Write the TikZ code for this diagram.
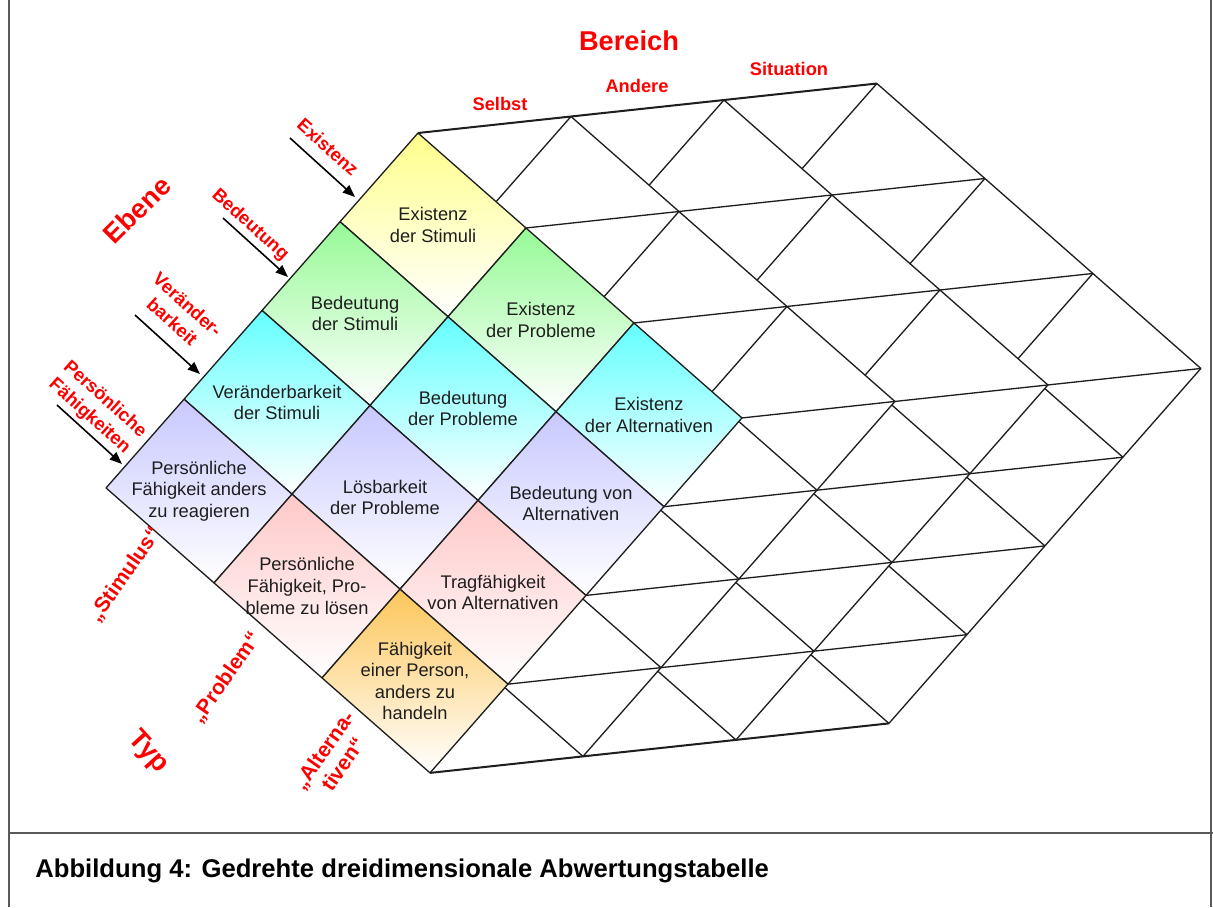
\documentclass[tikz,border=0pt]{standalone}
\usepackage{fontspec}
\setmainfont{Liberation Sans}
\usetikzlibrary{calc,arrows.meta}

\definecolor{cyel}{RGB}{255,255,140}
\definecolor{cgrn}{RGB}{150,250,150}
\definecolor{ccyn}{RGB}{100,255,255}
\definecolor{clav}{RGB}{200,200,255}
\definecolor{cpnk}{RGB}{255,200,200}
\definecolor{corg}{RGB}{253,198,90}
\definecolor{ink}{RGB}{30,30,30}

\tikzset{
    mesh/.style={draw=ink, line width=0.75pt, line join=round},
    rim/.style={draw=ink, line width=1.15pt},
    cell/.style={align=center, text=ink, font=\fontsize{10.4}{12.3}\selectfont},
    pointer/.style={draw=black, line width=0.9pt, -{Triangle[length=7pt,width=5.5pt]}},
    lvllabel/.style={text=red, align=center, font=\bfseries\fontsize{10.5}{13}\selectfont, rotate=-42},
    typlabel/.style={text=red, align=center, font=\bfseries\fontsize{12}{13.5}\selectfont, rotate=55},
    berlabel/.style={text=red, font=\bfseries\fontsize{10.4}{12}\selectfont},
    bigtitle/.style={text=red, font=\bfseries\fontsize{15.5}{18}\selectfont},
    rahmen/.style={draw=black!65, line width=1.1pt},
    captext/.style={inner sep=0pt, font=\bfseries\fontsize{14.6}{16}\selectfont}
}

\begin{document}
\begin{tikzpicture}[x=0.02cm, y=-0.02cm]
    \useasboundingbox (0,0) rectangle (1213,907);

    \begin{scope}[shift={(418,133)}, x={(-1.56cm,-1.775cm)}, y={(2.16cm,-1.9cm)}, z={(3.06cm,0.33cm)}]
        \foreach \c in {3,2,1} {
            \filldraw[mesh, fill=white] (0,0,\c) -- (4,0,\c) -- (4,3,\c) -- (0,3,\c) -- cycle;
            \foreach \a in {1,2,3} \draw[mesh] (\a,0,\c) -- (\a,3,\c);
            \foreach \b in {1,2} \draw[mesh] (0,\b,\c) -- (4,\b,\c);
        }

        \foreach \i/\j/\col/\nm/\txt in {
            0/0/cyel/exst/{Existenz\\der Stimuli},
            1/0/cgrn/best/{Bedeutung\\der Stimuli},
            2/0/ccyn/vest/{Veränderbarkeit\\der Stimuli},
            3/0/clav/pfst/{Persönliche\\Fähigkeit anders\\zu reagieren},
            0/1/cgrn/expr/{Existenz\\der Probleme},
            1/1/ccyn/bepr/{Bedeutung\\der Probleme},
            2/1/clav/lopr/{Lösbarkeit\\der Probleme},
            3/1/cpnk/pfpr/{Persönliche\\Fähigkeit, Pro-\\bleme zu lösen},
            0/2/ccyn/exal/{Existenz\\der Alternativen},
            1/2/clav/beal/{Bedeutung von\\Alternativen},
            2/2/cpnk/tral/{Tragfähigkeit\\von Alternativen},
            3/2/corg/fhal/{Fähigkeit\\einer Person,\\anders zu\\handeln}} {
            \shade[top color=\col, bottom color=white] (\i,\j,0) -- (\i+1,\j,0) -- (\i+1,\j+1,0) -- (\i,\j+1,0) -- cycle;
            \draw[mesh] (\i,\j,0) -- (\i+1,\j,0) -- (\i+1,\j+1,0) -- (\i,\j+1,0) -- cycle;
            \node[cell] (\nm) at (\i+0.5,\j+0.5,0) {\txt};
        }

        \foreach \b in {1,2,3} \draw[mesh] (0,\b,0) -- (0,\b,3);
        \foreach \a in {1,2,3} \draw[mesh] (\a,3,0) -- (\a,3,3);
        \draw[rim] (0,0,0) -- (0,0,3);
        \draw[rim] (4,3,0) -- (4,3,3);
    \end{scope}

    \node[bigtitle] (ber) at (629,41) {Bereich};
    \node[berlabel] (sel) at (500,104) {Selbst};
    \node[berlabel] (and) at (637,86) {Andere};
    \node[berlabel] (sit) at (789,69) {Situation};

    \node[bigtitle, rotate=45] (ebe) at (137,210) {Ebene};
    \node[lvllabel] (lex) at (328,147) {Existenz};
    \node[lvllabel] (lbe) at (250,225) {Bedeutung};
    \node[lvllabel] (lve) at (180,313) {Veränder-\\barkeit};
    \node[lvllabel] (lpf) at (97,408) {Persönliche\\Fähigkeiten};

    \foreach \k/\sx/\sy in {1/290/138, 2/223/218, 3/135/315, 4/57/405} {
        \coordinate (p\k) at (\sx,\sy);
        \coordinate (q\k) at ($(p\k) + (65,59)$);
        \draw[pointer] (p\k) -- (q\k);
    }

    \node[bigtitle, rotate=-48] (typ) at (148,752) {Typ};
    \node[typlabel] (tst) at (125,575) {„Stimulus“};
    \node[typlabel] (tpr) at (226,678) {„Problem“};
    \node[typlabel] (tal) at (333,757) {„Alterna-\\tiven“};

    \draw[rahmen] (9,0) -- (9,907);
    \draw[rahmen] (1211,0) -- (1211,907);
    \draw[rahmen] (9,833) -- (1213,833);
    \node[captext, anchor=base west] (cap) at (35,877) {Abbildung 4: Gedrehte dreidimensionale Abwertungstabelle};
\end{tikzpicture}
\end{document}
